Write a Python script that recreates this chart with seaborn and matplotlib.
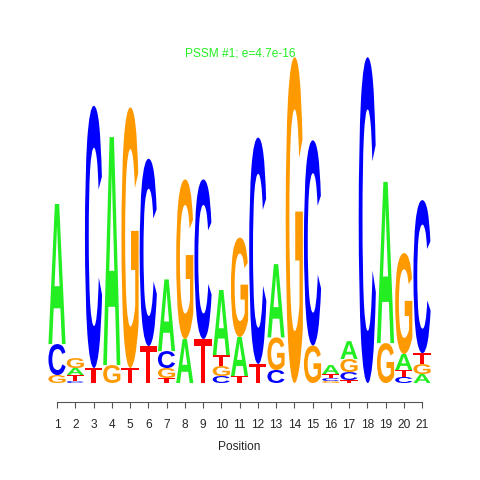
import numpy as np
import pandas as pd
import matplotlib
matplotlib.use("Agg")
import matplotlib.pyplot as plt
import seaborn as sns
from matplotlib.textpath import TextPath
from matplotlib.patches import PathPatch
from matplotlib.font_manager import FontProperties
from matplotlib.transforms import Affine2D

# Letter heights (bits) per position
positions = list(range(1, 22))
A_bits = [0.86, 0.043, 0, 1.40, 0, 0, 0.44, 0.27, 0, 0.40, 0.24, 0, 0.45, 0, 0, 0.055, 0.11, 0, 0.99, 0.098, 0.055]
C_bits = [0.19, 0.012, 1.61, 0, 0, 1.15, 0.104, 0, 0.98, 0.043, 0, 1.39, 0.08, 0, 1.26, 0.018, 0.049, 2.0, 0, 0.037, 0.94]
G_bits = [0.049, 0.061, 0, 0.11, 1.60, 0, 0.061, 0.98, 0, 0.061, 0.61, 0, 0.20, 2.0, 0.23, 0.012, 0.08, 0, 0.245, 0.62, 0.061]
T_bits = [0, 0.037, 0.092, 0, 0.092, 0.227, 0.031, 0, 0.27, 0.067, 0.043, 0.117, 0, 0, 0, 0.025, 0.018, 0, 0, 0.043, 0.067]

title = "PSSM #1; e=4.7e-16"
colors = {"A": "#22EE22", "C": "#0000FF", "G": "#FF9900", "T": "#FF0000"}

logo = pd.DataFrame({"A": A_bits, "C": C_bits, "G": G_bits, "T": T_bits}, index=positions)

sns.set_style("white")
plt.rcParams['font.family'] = ['Liberation Sans', 'DejaVu Sans']

fig = plt.figure(figsize=(4.8, 4.8), dpi=100)
ax = fig.add_axes([47.9 / 480, 97 / 480, 383.25 / 480, 342 / 480])

glyph_font = FontProperties(family="Liberation Sans", weight="bold")
glyphs = {}
for letter in "ACGT":
    glyphs[letter] = TextPath((0, 0), letter, size=1, prop=glyph_font)

def draw_letter(letter, x, y0, h, width=0.94):
    p = glyphs[letter]
    ext = p.get_extents()
    tr = (Affine2D()
          .translate(-ext.x0, -ext.y0)
          .scale(width / ext.width, h / ext.height)
          .translate(x - width / 2, y0))
    ax.add_patch(PathPatch(tr.transform_path(p), facecolor=colors[letter],
                           edgecolor="none", lw=0))

# stack letters, smallest at the bottom
for pos, row in logo.iterrows():
    y = 0.0
    for letter, h in row.sort_values().items():
        if h <= 0:
            continue
        draw_letter(letter, pos, y, h)
        y += h

ax.set_xlim(0.5, 21.5)
ax.set_ylim(0, 2.1)
sns.despine(ax=ax, left=True, top=True, right=True)
ax.spines['bottom'].set_position(('outward', 13.5))
ax.spines['bottom'].set_bounds(1, 21)
ax.spines['bottom'].set_color("#555555")
ax.spines['bottom'].set_linewidth(0.8)
ax.set_xticks(positions)
ax.set_xticklabels([str(p) for p in positions], fontsize=8.6)
ax.tick_params(axis='x', bottom=True, direction='out', length=4.3, width=0.8,
               color="#555555", pad=8)
ax.set_yticks([])
ax.set_xlabel("Position", fontsize=8.6, labelpad=7)
ax.patch.set_alpha(0)

fig.text(0.5, 1 - 53 / 480, title, color="#22EE22", fontsize=8.6, ha="center", va="center")

fig.savefig("out.png", dpi=100)
